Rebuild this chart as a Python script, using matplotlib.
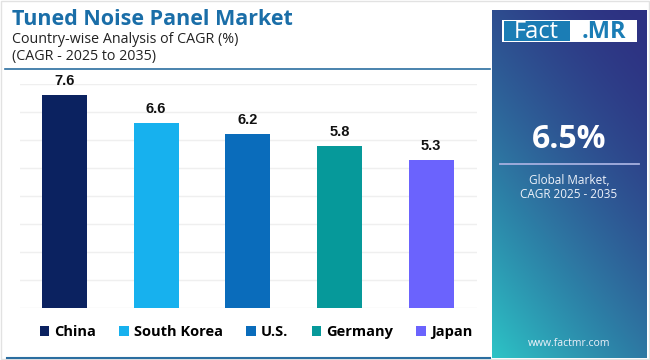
import numpy as np
import matplotlib
matplotlib.use("Agg")
import matplotlib.pyplot as plt
from matplotlib.patches import Rectangle
from matplotlib.lines import Line2D

categories = ["China", "South Korea", "U.S.", "Germany", "Japan"]
values = [7.6, 6.6, 6.2, 5.8, 5.3]
colors = ["#0b2260", "#17b1ee", "#0a6cbb", "#06999a", "#6b63fd"]
title = "Tuned Noise Panel Market"
subtitle1 = "Country-wise Analysis of CAGR (%)"
subtitle2 = "(CAGR - 2025 to 2035)"
global_cagr = "6.5%"

W, H = 650, 360
fig = plt.figure(figsize=(6.5, 3.6), dpi=100)
fig.patch.set_facecolor("white")

def fx(px): return px / W
def fy(py): return 1 - py / H

main_font = ["Open Sans", "DejaVu Sans"]

# Title block
fig.text(fx(12), fy(25), title, fontsize=15.5, fontweight="bold", color="#1a6ea8",
         family=main_font, va="baseline", ha="left")
fig.text(fx(12), fy(43), subtitle1, fontsize=10.3, color="#222222",
         family=main_font, va="baseline", ha="left")
fig.text(fx(12), fy(60), subtitle2, fontsize=10.3, color="#222222",
         family=main_font, va="baseline", ha="left")
fig.add_artist(Line2D([fx(5), fx(490)], [fy(69), fy(69)], color="#2b6ea0", lw=1.2))
fig.add_artist(Line2D([fx(7), fx(490)], [fy(358), fy(358)], color="#2b6ea0", lw=1.5))
# outer light border
fig.add_artist(Rectangle((0.001, 0.002), 0.997, 0.995, fill=False, ec="#e2e2e2", lw=1,
                         transform=fig.transFigure))

# Bar chart
ax = fig.add_axes([fx(20), fy(308), fx(477) - fx(20), fy(84) - fy(308)])
x = np.arange(len(categories))
bars = ax.bar(x, values, width=0.49, color=colors, zorder=3)
for b, v in zip(bars, values):
    ax.annotate(f"{v}", (b.get_x() + b.get_width() / 2, v), xytext=(0, 5),
                textcoords="offset points", ha="center", va="bottom",
                fontsize=10.5, fontweight="bold", color="#111111",
                family=["Liberation Sans", "DejaVu Sans"])
ax.set_xlim(-0.485, 4.5)
ax.set_ylim(0, 8)
ax.set_yticks(np.arange(0, 9, 1))
ax.grid(axis="y", color="#efefef", lw=1, zorder=0)
ax.tick_params(left=False, bottom=False, labelleft=False, labelbottom=False)
for s in ax.spines.values():
    s.set_visible(False)

leg = fig.legend(bars, categories, loc="center", bbox_to_anchor=(fx(256), fy(332)),
                 ncol=5, frameon=False, handlelength=0.65, handleheight=0.65,
                 handletextpad=0.35, columnspacing=1.6,
                 prop={"family": main_font, "weight": "bold", "size": 10.5})

# Right panel with gradient
pax = fig.add_axes([fx(492), fy(358), fx(647) - fx(492), fy(10) - fy(358)])
ny, nx = 200, 100
yy, xx = np.mgrid[0:1:ny * 1j, 0:1:nx * 1j]  # yy=0 top
t = np.clip((yy * 0.8 + (1 - xx) * 0.45) / 1.25, 0, 1)  # 1 at bottom-left
top = np.array([0x2e, 0x31, 0x82]) / 255
bot = np.array([0x2c, 0xc4, 0xc6]) / 255
t2 = t ** 1.6
img = top[None, None, :] * (1 - t2[..., None]) + bot[None, None, :] * t2[..., None]
pax.imshow(img, aspect="auto", extent=[0, 1, 0, 1], origin="upper")
pax.set_xlim(0, 1); pax.set_ylim(0, 1)
pax.axis("off")

# logo
fig.add_artist(Rectangle((fx(502), fy(42)), fx(637) - fx(502), fy(20) - fy(42),
                         transform=fig.transFigure, fc="white", ec="none"))
fig.add_artist(Rectangle((fx(503.5), fy(40.5)), fx(570) - fx(503.5), fy(21.5) - fy(40.5),
                         transform=fig.transFigure, fc="#1b7db5", ec="none"))
fig.text(fx(536.5), fy(31.5), "Fact", fontsize=17, color="white", ha="center", va="center",
         family=main_font)
fig.text(fx(604), fy(31.5), ".MR", fontsize=17, color="#1b7db5", ha="center", va="center",
         fontweight="bold", family=main_font)

fig.text(fx(569), fy(148), global_cagr, fontsize=23, fontweight="bold", color="white",
         ha="center", va="baseline", family=main_font)
fig.add_artist(Line2D([fx(500), fx(639)], [fy(164), fy(164)], color="#a6b0e0", lw=1.3))
fig.text(fx(569), fy(180), "Global Market,", fontsize=8.5, color="#eef2fa",
         ha="center", va="center", family=main_font)
fig.text(fx(569), fy(194), "CAGR 2025 - 2035", fontsize=8.5, color="#eef2fa",
         ha="center", va="center", family=main_font)
fig.text(fx(569), fy(344), "www.factmr.com", fontsize=7.5, color="#eef2fa",
         ha="center", va="center", family=main_font)

fig.savefig("out.png", dpi=100, facecolor="white")
